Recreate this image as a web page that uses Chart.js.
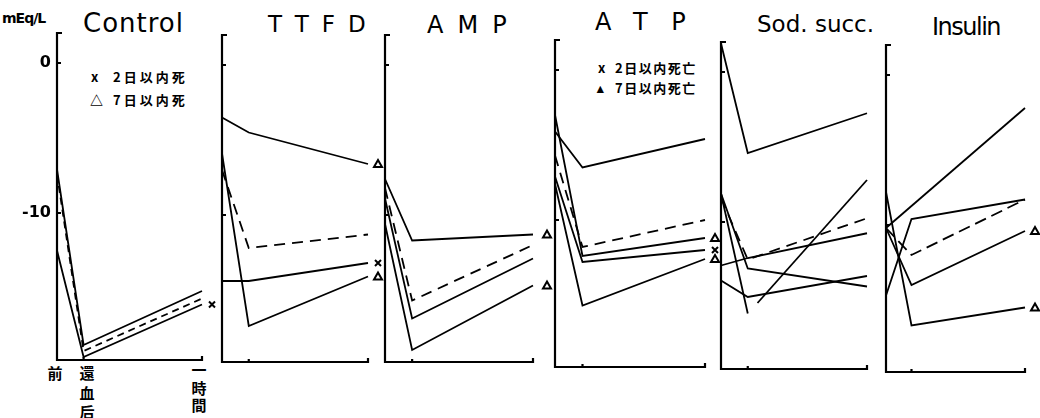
<!DOCTYPE html>
<html>
<head>
<meta charset="utf-8">
<script src="https://cdn.jsdelivr.net/npm/chart.js@4.4.0/dist/chart.umd.min.js"></script>
<style>
  body { margin: 0; background: #fff; width: 1040px; height: 418px; position: relative; overflow: hidden; }
  canvas { position: absolute; left: 0; top: 0; }
  .t { position: absolute; color: #000; white-space: nowrap; line-height: 1; font-family: "DejaVu Sans", sans-serif; }
  .leg { font-family: "Noto Sans CJK JP", sans-serif; font-weight: bold; font-size: 13px; letter-spacing: 3px; }
  .cjk { font-family: "Noto Sans CJK JP", sans-serif; font-weight: bold; font-size: 15px; width: 16px; text-align: center; white-space: normal; }
</style>
</head>
<body>

<div class="t" style="left:2px;top:11px;font-size:14px;font-weight:bold;letter-spacing:-1px">mEq/L</div>

<div class="t" style="left:83px;top:10px;font-size:26px;letter-spacing:1px">Control</div>
<div class="t" style="left:268px;top:12.5px;font-size:23px;letter-spacing:13px">TTFD</div>
<div class="t" style="left:427px;top:12.7px;font-size:24px;letter-spacing:14px">AMP</div>
<div class="t" style="left:595px;top:9.7px;font-size:24px;letter-spacing:23.5px">ATP</div>
<div class="t" style="left:757px;top:12.5px;font-size:23px">Sod. succ.</div>
<div class="t" style="left:932px;top:14.7px;font-size:24px;letter-spacing:-1.5px">Insulin</div>

<!-- legends -->
<div class="t leg" style="left:91px;top:69.5px">x</div>
<div class="t leg" style="left:113px;top:69.5px">2日以内死</div>
<div class="t leg" style="left:90px;top:92.5px;font-weight:900">△</div>
<div class="t leg" style="left:113px;top:92.5px">7日以内死</div>
<div class="t leg" style="left:598px;top:60.5px">x</div>
<div class="t leg" style="left:615px;top:60.5px;letter-spacing:1.5px">2日以内死亡</div>
<div class="t leg" style="left:597px;top:80.5px">▴</div>
<div class="t leg" style="left:615px;top:80.5px;letter-spacing:1.5px">7日以内死亡</div>

<!-- x labels under Control -->
<div class="t cjk" style="left:47px;top:365px">前</div>
<div class="t cjk" style="left:79px;top:363px;line-height:19.5px">還血后</div>
<div class="t cjk" style="left:191px;top:361px;line-height:17.5px">一時間</div>

<script>
// minutes: before, right after reinfusion, one hour
const times = [0, 11, 60];
const yTicks = [0, -10];

// Control
const controlA = [-7.1, -18.8, -15.2];
const controlDash = [-7.4, -19.2, -15.7];
const controlC = [-12.5, -19.6, -16.1];

// TTFD
const ttfdA = [-3.5, -4.5, -6.6];
const ttfdDash = [-7.0, -12.2, -11.3];
const ttfdB = [-14.4, -14.4, -13.2];
const ttfdC = [-5.9, -17.4, -14.1];

// AMP
const ampA = [-7.6, -11.7, -11.3];
const ampDash = [-8.2, -15.7, -12.0];
const ampB = [-8.9, -16.9, -12.9];
const ampC = [-10.6, -19.0, -14.7];

// ATP
const atpA = [-4.1, -6.5, -4.6];
const atpB = [-3.0, -12.4, -11.2];
const atpDash = [-5.7, -11.8, -10.0];
const atpC = [-7.1, -12.8, -12.0];
const atpD = [-7.6, -15.7, -12.6];

// Sod. succ.
const sodA = [1.9, -5.4, -2.75];
const sodB = [-8.1, -13.1, -14.3];
const sodDash = [-8.4, -12.5, -9.75];
const sodC = [-12.9, -12.4, -10.75];
const sodD = [-13.9, -15.0, -13.6];
const sodE = [-8.1, -16.1, null];
const sodFTimes = [15, 60];
const sodF = [-15.4, -7.2];

// Insulin
const insATimes = [0, 60];
const insA = [-10.2, -2.2];
const insB = [-14.7, -9.6, -8.3];
const insDash = [-10.2, -12.0, -8.3];
const insC = [-7.8, -16.7, -15.5];
const insD = [-10.2, -14.0, -10.4];

const PX = 15; // pixels per mEq/L

// box: axis left, axis right, pixel of 0
const panels = [
  { box: [57, 202, 63], labels: true, series: [
    { v: controlA }, { v: controlDash, dash: [7, 5] }, { v: controlC, mark: 'x' }] },
  { box: [222, 368, 65], series: [
    { v: ttfdA, mark: 'tri' }, { v: ttfdDash, dash: [11, 7] }, { v: ttfdB, mark: 'x' }, { v: ttfdC, mark: 'tri' }] },
  { box: [385, 533, 65], series: [
    { v: ampA, mark: 'tri', off: 14 }, { v: ampDash, dash: [11, 7] }, { v: ampB }, { v: ampC, mark: 'tri', off: 14 }] },
  { box: [555, 705, 70], series: [
    { v: atpA }, { v: atpB, mark: 'tri' }, { v: atpDash, dash: [11, 7] }, { v: atpC, mark: 'x' }, { v: atpD, mark: 'tri' }] },
  { box: [721, 867, 72], series: [
    { v: sodA }, { v: sodB }, { v: sodDash, dash: [11, 7] }, { v: sodC }, { v: sodD }, { v: sodE }, { v: sodF, t: sodFTimes }] },
  { box: [886, 1025, 75], series: [
    { v: insA, t: insATimes }, { v: insB }, { v: insDash, dash: [12, 6] }, { v: insC, mark: 'tri' }, { v: insD, mark: 'tri' }] }
];

function drawMark(ctx, m, x, y) {
  ctx.beginPath();
  if (m === 'tri') {
    ctx.moveTo(x - 4, y + 3); ctx.lineTo(x + 4, y + 3); ctx.lineTo(x, y - 4); ctx.closePath();
  } else {
    ctx.moveTo(x - 3, y - 3); ctx.lineTo(x + 3, y + 3);
    ctx.moveTo(x + 3, y - 3); ctx.lineTo(x - 3, y + 3);
  }
  ctx.stroke();
}

const frame = {
  id: 'frame',
  afterDraw(chart) {
    const { ctx, chartArea: a, scales: { x, y } } = chart;
    ctx.save();
    ctx.strokeStyle = '#000';
    ctx.lineWidth = 2.2;
    ctx.setLineDash([]);
    ctx.beginPath();
    ctx.moveTo(a.left + 5, a.top);
    ctx.lineTo(a.left, a.top);
    ctx.lineTo(a.left, a.bottom);
    ctx.lineTo(a.right, a.bottom);
    ctx.lineTo(a.right, a.bottom - 4);
    yTicks.forEach(v => {
      const py = y.getPixelForValue(v);
      ctx.moveTo(a.left, py);
      ctx.lineTo(a.left + 4, py);
    });
    const px = x.getPixelForValue(times[1]);
    ctx.moveTo(px, a.bottom);
    ctx.lineTo(px, a.bottom - 3);
    ctx.stroke();

    if (chart.options.plugins.frame.labels) {
      ctx.fillStyle = '#000';
      ctx.font = 'bold 16px "DejaVu Sans"';
      ctx.textAlign = 'right';
      ctx.textBaseline = 'middle';
      yTicks.forEach(v => ctx.fillText(v === 0 ? '0' : '-' + Math.abs(v), a.left - 6, y.getPixelForValue(v)));
    }

    ctx.lineWidth = 2;
    chart.data.datasets.forEach((ds, i) => {
      if (!ds.mark) return;
      const pts = chart.getDatasetMeta(i).data;
      const pt = pts[pts.length - 1];
      drawMark(ctx, ds.mark, pt.x + (ds.off || 10), pt.y);
    });
    ctx.restore();
  }
};

panels.forEach(p => {
  const cv = document.createElement('canvas');
  cv.width = 1040;
  cv.height = 418;
  document.body.appendChild(cv);
  const [L, R, zero] = p.box;
  const top = zero - 2 * PX;
  const bottom = zero + 19.8 * PX;
  new Chart(cv, {
    type: 'line',
    data: {
      datasets: p.series.map(s => ({
        data: (s.t || times).map((t, i) => ({ x: t, y: s.v[i] })).filter(d => d.y !== null && d.y !== undefined),
        borderColor: '#000',
        borderWidth: 1.8,
        borderDash: s.dash || [],
        pointRadius: 0,
        tension: 0,
        clip: false,
        mark: s.mark,
        off: s.off
      }))
    },
    options: {
      responsive: false,
      animation: false,
      layout: { padding: { left: L, right: 1040 - R, top: top, bottom: 418 - bottom } },
      scales: {
        x: { type: 'linear', min: 0, max: 60, display: false },
        y: { min: -19.8, max: 2, display: false }
      },
      plugins: {
        legend: { display: false },
        tooltip: { enabled: false },
        frame: { labels: !!p.labels }
      }
    },
    plugins: [frame]
  });
});
</script>
</body>
</html>
